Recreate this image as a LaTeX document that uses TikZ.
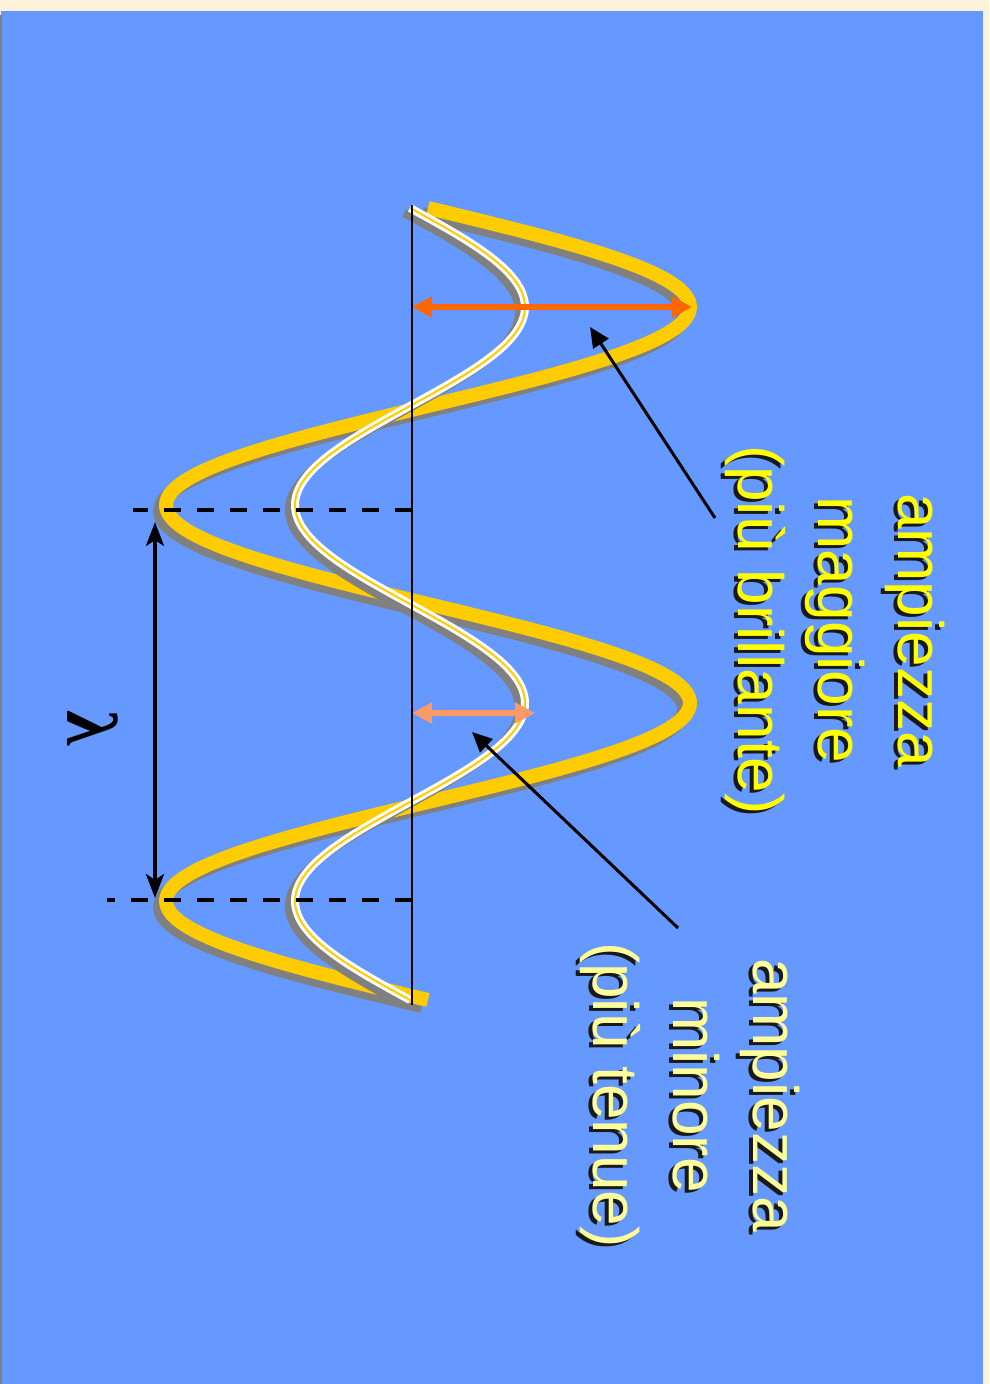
\documentclass[tikz,border=0pt]{standalone}
\usepackage{fontspec}
\setmainfont{Liberation Sans}
\newfontfamily\greekfont{Liberation Serif}
\usetikzlibrary{arrows.meta}
\definecolor{paper}{HTML}{FEF3DA}
\definecolor{slideblue}{HTML}{6699FF}
\definecolor{waveyellow}{HTML}{FFCC00}
\definecolor{waveshade}{HTML}{808080}
\definecolor{bigorange}{HTML}{FF6600}
\definecolor{salmon}{HTML}{FF9966}
\definecolor{paleyellow}{HTML}{FFFF99}
\definecolor{brightyellow}{HTML}{FFFF00}

\begin{document}
\begin{tikzpicture}[x=0.5pt, y=-0.5pt, >=Latex,
  txtbox/.style={align=center, rotate=-90, inner sep=0pt,
    font=\fontsize{32}{40}\selectfont},
  txtshade/.style={txtbox, text=black!90},
  bigwave/.style={line width=7pt, waveyellow},
  bigshade/.style={line width=7pt, waveshade},
  smallwave/.style={line width=4pt, white},
  smallcore/.style={line width=1pt, waveyellow},
  smallshade/.style={line width=4pt, waveshade},
  dashline/.style={line width=2.2pt, dash pattern=on 8.5pt off 8pt},
  ampl/.style={line width=3.2pt, {Triangle[length=10pt,width=10pt]}-{Triangle[length=10pt,width=10pt]}},
  pointer/.style={line width=1.5pt, -{Triangle[length=10pt,width=9pt]}}]
  % background and slide
  \useasboundingbox (0,0) rectangle (989,1384);
  \fill[paper] (0,0) rectangle (989,1384);
  \fill[slideblue] (1,11) rectangle (983,1384);
  \fill[waveshade] (0,15) rectangle (2,1384);

  % waves
  \draw[bigshade, shift={(-6,6)}] plot[domain=208:1000, samples=120, smooth] ({428+262*sin((\x-208)*0.90909)}, \x);
  \draw[bigwave] plot[domain=208:1000, samples=120, smooth] ({428+262*sin((\x-208)*0.90909)}, \x);
  \draw[smallshade, shift={(-6,5)}] plot[domain=208:1000, samples=120, smooth] ({410+115*sin((\x-208)*0.90909)}, \x);
  \draw[smallwave] plot[domain=208:1000, samples=120, smooth] ({410+115*sin((\x-208)*0.90909)}, \x);
  \draw[smallcore] plot[domain=208:1000, samples=120, smooth] ({410+115*sin((\x-208)*0.90909)}, \x);

  % axis and wavelength marks
  \coordinate (axtop) at (412,205);
  \coordinate (axbot) at (412,1005);
  \coordinate (axA) at (412,510);
  \coordinate (axB) at (412,900);
  \coordinate (dashA) at (133,510);
  \coordinate (dashB) at (107,900);
  \coordinate (lamA) at (155,522);
  \coordinate (lamB) at (155,898);
  \draw[line width=1pt] (axtop) -- (axbot);
  \draw[dashline] (axA) -- (dashA);
  \draw[dashline] (axB) -- (dashB);
  \draw[line width=2pt, {Stealth[length=12pt,width=9pt,inset=3pt]}-{Stealth[length=12pt,width=9pt,inset=3pt]}] (lamA) -- (lamB);
  \node[rotate=-90, font=\greekfont\bfseries\fontsize{36}{40}\selectfont] (lam) at (93,728) {λ};

  % amplitudes
  \coordinate (ampbig0) at (412,307);
  \coordinate (ampbig1) at (692,307);
  \coordinate (ampsmall0) at (412,713);
  \coordinate (ampsmall1) at (535,713);
  \draw[ampl, bigorange] (ampbig0) -- (ampbig1);
  \draw[ampl, salmon] (ampsmall0) -- (ampsmall1);

  % labels
  \coordinate (bigpos) at (835,630);
  \coordinate (smallpos) at (690,1095);
  \node[txtshade] (bigshad) at ([shift={(-3.5,3)}]bigpos) {ampiezza\\maggiore\\(più brillante)};
  \node[txtbox, text=brightyellow] (bigtxt) at (bigpos) {ampiezza\\maggiore\\(più brillante)};
  \node[txtshade] (smallshad) at ([shift={(-3.5,3)}]smallpos) {ampiezza\\minore\\(più tenue)};
  \node[txtbox, text=paleyellow] (smalltxt) at (smallpos) {ampiezza\\minore\\(più tenue)};

  % pointers
  \coordinate (ptrbig0) at (715,518);
  \coordinate (ptrbig1) at (590,327);
  \coordinate (ptrsmall0) at (678,928);
  \coordinate (ptrsmall1) at (472,732);
  \draw[pointer] (ptrbig0) -- (ptrbig1);
  \draw[pointer] (ptrsmall0) -- (ptrsmall1);
\end{tikzpicture}
\end{document}
